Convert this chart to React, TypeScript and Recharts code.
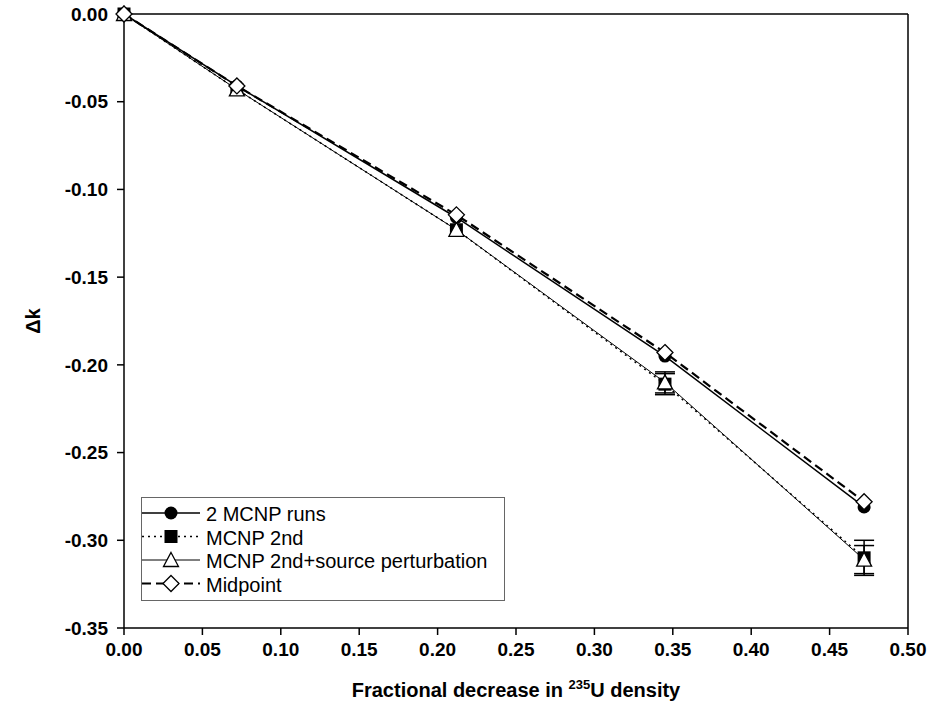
import React from 'react'
import { ComposedChart, Line, XAxis, YAxis, ErrorBar, ReferenceLine, Label } from 'recharts'

// fractional decrease in U-235 density
const fractions = [0, 0.072, 0.212, 0.345, 0.472]

// delta k for each method
const twoRuns = [0, -0.041, -0.116, -0.195, -0.281]
const mcnp2nd = [0, -0.043, -0.123, -0.211, -0.31]
const mcnp2ndErr = [null, null, null, 0.006, 0.01]
const srcPert = [0, -0.043, -0.123, -0.21, -0.311]
const srcPertErr = [null, null, null, 0.006, 0.008]
const midpoint = [0, -0.041, -0.1145, -0.193, -0.278]

const xTicks = [0, 0.05, 0.1, 0.15, 0.2, 0.25, 0.3, 0.35, 0.4, 0.45, 0.5]
const yTicks = [0, -0.05, -0.1, -0.15, -0.2, -0.25, -0.3, -0.35]

const FONT = '"Liberation Sans", Arial, sans-serif'

const toRows = (ys: number[], errs?: (number | null)[]) =>
  fractions.map((x, i) => ({ x, y: ys[i], err: errs ? errs[i] : null }))

const circleDot = (p: any) => <circle key={p.index} cx={p.cx} cy={p.cy} r={6.5} fill="#000" />
const squareDot = (p: any) => <rect key={p.index} x={p.cx - 6.5} y={p.cy - 6.5} width={13} height={13} fill="#000" />
const triangleDot = (p: any) => (
  <polygon
    key={p.index}
    points={`${p.cx},${p.cy - 7.5} ${p.cx + 7.5},${p.cy + 6.5} ${p.cx - 7.5},${p.cy + 6.5}`}
    fill="#fff"
    stroke="#000"
    strokeWidth={1.3}
  />
)
const diamondDot = (p: any) => (
  <polygon
    key={p.index}
    points={`${p.cx},${p.cy - 8} ${p.cx + 8},${p.cy} ${p.cx},${p.cy + 8} ${p.cx - 8},${p.cy}`}
    fill="#fff"
    stroke="#000"
    strokeWidth={1.3}
  />
)

const legendItems = [
  { name: '2 MCNP runs', dash: undefined, width: 1.5, dot: circleDot },
  { name: 'MCNP 2nd', dash: '2 4', width: 1.5, dot: squareDot },
  { name: 'MCNP 2nd+source perturbation', dash: undefined, width: 1, dot: triangleDot },
  { name: 'Midpoint', dash: '9 5', width: 2.2, dot: diamondDot },
]

function LegendBox() {
  return (
    <svg
      width={364}
      height={104}
      style={{ position: 'absolute', left: 141, top: 497 }}
    >
      <rect x={0.5} y={0.5} width={363} height={103} fill="#fff" stroke="#666" strokeWidth={1} />
      {legendItems.map((it, i) => {
        const cy = 16 + i * 23.5
        return (
          <g key={it.name}>
            <line x1={1} x2={59} y1={cy} y2={cy} stroke="#000" strokeWidth={it.width} strokeDasharray={it.dash} />
            {it.dot({ cx: 30, cy, index: i })}
            <text x={65} y={cy + 1} dominantBaseline="central" fontFamily={FONT} fontSize={20} fill="#000">
              {it.name}
            </text>
          </g>
        )
      })}
    </svg>
  )
}

const XLabel = (props: any) => {
  const vb = props.viewBox
  return (
    <text x={vb.x + vb.width / 2} y={vb.y + 69} textAnchor="middle" fontFamily={FONT} fontWeight="bold" fontSize={20} fill="#000">
      <tspan>Fractional decrease in </tspan>
      <tspan dy={-8} fontSize={13}>235</tspan>
      <tspan dy={8}>U density</tspan>
    </text>
  )
}

const YLabel = () => (
  <text x={33} y={321} transform="rotate(-90, 33, 321)" textAnchor="middle" dominantBaseline="central" fontFamily={FONT} fontWeight="bold" fontSize={20} fill="#000">
    Δk
  </text>
)

export default function App() {
  const tickStyle = { fontFamily: FONT, fontWeight: 'bold', fontSize: 19, fill: '#000' }
  return (
    <div style={{ position: 'absolute', left: 0, top: 0, width: 932, height: 715, background: '#fff' }}>
      <ComposedChart width={932} height={715} margin={{ top: 14, right: 24, bottom: 0, left: 0 }}>
        <XAxis
          dataKey="x"
          type="number"
          domain={[0, 0.5]}
          ticks={xTicks}
          tickFormatter={(v: number) => v.toFixed(2)}
          tick={tickStyle}
          tickSize={7}
          tickMargin={8}
          height={87}
          axisLine={{ stroke: '#000', strokeWidth: 1.5 }}
          tickLine={{ stroke: '#000', strokeWidth: 1.5 }}
        >
          <Label content={<XLabel />} />
        </XAxis>
        <YAxis
          type="number"
          domain={[-0.35, 0]}
          ticks={yTicks}
          tickFormatter={(v: number) => v.toFixed(2)}
          tick={tickStyle}
          tickSize={7}
          tickMargin={9}
          width={124}
          axisLine={{ stroke: '#000', strokeWidth: 1.5 }}
          tickLine={{ stroke: '#000', strokeWidth: 1.5 }}
        >
          <Label content={<YLabel />} />
        </YAxis>
        <ReferenceLine y={0} stroke="#000" strokeWidth={1.5} />
        <ReferenceLine x={0.5} stroke="#000" strokeWidth={1.5} />
        <Line
          data={toRows(twoRuns)}
          dataKey="y"
          stroke="#000"
          strokeWidth={1.5}
          dot={circleDot}
          activeDot={false}
          isAnimationActive={false}
        />
        <Line
          data={toRows(mcnp2nd, mcnp2ndErr)}
          dataKey="y"
          stroke="#000"
          strokeWidth={1.5}
          strokeDasharray="2 4"
          dot={squareDot}
          activeDot={false}
          isAnimationActive={false}
        >
          <ErrorBar dataKey="err" direction="y" width={10} stroke="#000" strokeWidth={1.5} isAnimationActive={false} />
        </Line>
        <Line
          data={toRows(srcPert, srcPertErr)}
          dataKey="y"
          stroke="#000"
          strokeWidth={1}
          dot={triangleDot}
          activeDot={false}
          isAnimationActive={false}
        >
          <ErrorBar dataKey="err" direction="y" width={10} stroke="#000" strokeWidth={1.5} isAnimationActive={false} />
        </Line>
        <Line
          data={toRows(midpoint)}
          dataKey="y"
          stroke="#000"
          strokeWidth={2.2}
          strokeDasharray="9 5"
          dot={diamondDot}
          activeDot={false}
          isAnimationActive={false}
        />
      </ComposedChart>
      <LegendBox />
    </div>
  )
}
